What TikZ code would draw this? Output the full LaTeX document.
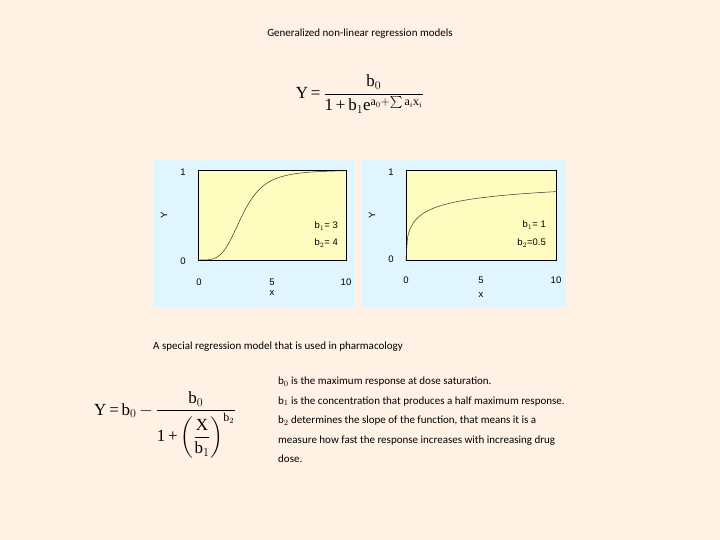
\documentclass[tikz,border=0pt]{standalone}
\usepackage{fontspec}
\usepackage{amsmath}
\setmainfont{Carlito}
\newfontfamily\tms{Liberation Serif}
\newfontfamily\ars{Liberation Sans}
\begin{document}
\begin{tikzpicture}[x=1pt,y=-1pt,
  txt/.style={font=\fontsize{11}{13.5}\selectfont, inner sep=0},
  panel/.style={fill=cyan!12!white, draw=none},
  plotbox/.style={fill=yellow!25!white, draw=black, line width=0.6pt},
  lab/.style={font=\ars\fontsize{9.5}{11}\selectfont, inner sep=0},
  curve/.style={line width=0.5pt, black!80}]
\fill[orange!10!white] (0,0) rectangle (720,540);
\useasboundingbox (0,0) rectangle (720,540);
\node[txt] (title) at (360,34) {Generalized non-linear regression models};
\node[inner sep=0, font=\tms\fontsize{17}{20}\selectfont] (f1) at (360,94)
  {Y\,=\,$\dfrac{\text{b}_0}{\text{1\,+\,b}_1\text{e}^{\text{a}_0+\sum\text{a}_i\text{x}_i}}$};
% left panel
\fill[panel] (153,160) rectangle (355,307);
\draw[plotbox] (198,170) rectangle (346,260);
\draw[curve] plot[domain=0:10, samples=80, smooth] ({198+14.8*\x},{260-90*((\x/3)^4)/((\x/3)^4+1)});
\node[lab] (l1) at (183,172) {1};
\node[lab] (l0) at (183,261) {0};
\node[lab,rotate=90] (ly) at (164,215) {Y};
\node[lab] (lx0) at (199,282) {0};
\node[lab] (lx5) at (272,282) {5};
\node[lab] (lx10) at (346,282) {10};
\node[lab] (lx) at (272,293) {x};
\node[lab,anchor=east] (lb1) at (338,226) {b$_1$= 3};
\node[lab,anchor=east] (lb2) at (338,243) {b$_2$= 4};
% right panel
\fill[panel] (361,160) rectangle (566,307);
\draw[plotbox] (406,170) rectangle (556,260);
\draw[curve] plot[domain=0:10, samples=100, smooth] ({406+15*\x},{260-90*sqrt(\x)/(1+sqrt(\x))});
\node[lab] (r1) at (391,172) {1};
\node[lab] (r0) at (391,259) {0};
\node[lab,rotate=90] (ry) at (372,215) {Y};
\node[lab] (rx0) at (406,280) {0};
\node[lab] (rx5) at (481,280) {5};
\node[lab] (rx10) at (556,280) {10};
\node[lab] (rx) at (481,295) {x};
\node[lab,anchor=east] (rb1) at (546,225) {b$_1$= 1};
\node[lab,anchor=east] (rb2) at (546,243) {b$_2$=0.5};
% second part
\node[txt,anchor=west] (sub) at (153,347) {A special regression model that is used in pharmacology};
\node[inner sep=0, font=\tms\fontsize{17}{20}\selectfont] (f2) at (165,425)
  {Y\,=\,b$_0$\,$-$\,$\dfrac{\text{b}_0}{\text{1\,+}\left(\dfrac{\text{X}}{\text{b}_1}\right)^{\text{b}_2}}$};
\node[txt,anchor=north west, align=left, font=\fontsize{11}{19.5}\selectfont] (desc) at (278,377)
  {b$_0$ is the maximum response at dose saturation.\\
   b$_1$ is the concentration that produces a half maximum response.\\
   b$_2$ determines the slope of the function, that means it is a\\
   measure how fast the response increases with increasing drug\\
   dose.};
\end{tikzpicture}
\end{document}
